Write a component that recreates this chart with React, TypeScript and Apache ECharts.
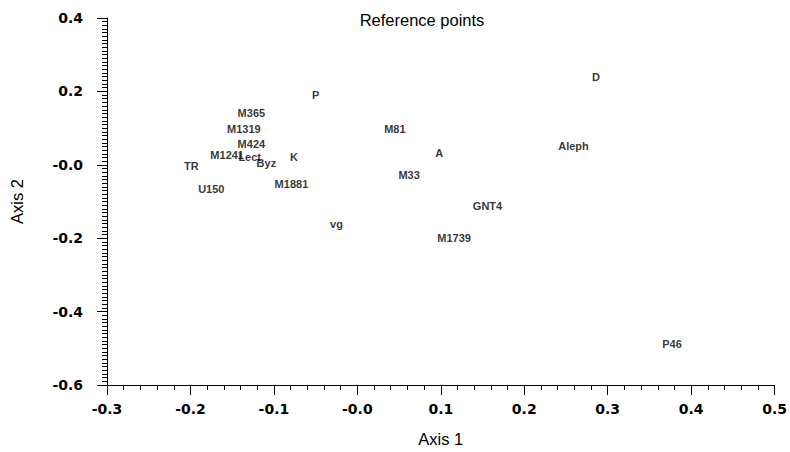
import React, { useEffect, useRef } from "react";
import * as echarts from "echarts";

// Reference points: label names with their coordinates on the first two axes
const names = [
  "D", "P", "M365", "M1319", "M424", "M1241", "Lect", "Byz", "K", "TR",
  "U150", "M1881", "M81", "A", "Aleph", "M33", "GNT4", "vg", "M1739", "P46",
];
const axis1 = [
  0.286, -0.05, -0.127, -0.136, -0.127, -0.156, -0.129, -0.109, -0.076, -0.199,
  -0.175, -0.079, 0.045, 0.098, 0.259, 0.062, 0.156, -0.025, 0.116, 0.377,
];
const axis2 = [
  0.24, 0.191, 0.142, 0.098, 0.058, 0.028, 0.022, 0.006, 0.02, -0.002,
  -0.065, -0.051, 0.098, 0.033, 0.052, -0.029, -0.111, -0.16, -0.2, -0.489,
];

const xTicks = { min: -0.3, max: 0.5, step: 0.1 };
const yTicks = { min: -0.6, max: 0.4, step: 0.2 };

const fmt = (v: number) => (Math.abs(v) < 1e-9 ? "-0.0" : v.toFixed(1));

export default function App() {
  const ref = useRef<HTMLDivElement>(null);

  useEffect(() => {
    if (!ref.current) return;
    const chart = echarts.init(ref.current, null, { renderer: "svg" });
    const font = "'Liberation Sans', Arial, Helvetica, sans-serif";
    const tickFont = "'DejaVu Sans', 'Liberation Sans', sans-serif";
    const axisCommon = {
      axisLine: { show: true, onZero: false, lineStyle: { color: "#000", width: 1 } },
      axisTick: { show: true, length: 10, lineStyle: { color: "#000" } },
      splitLine: { show: false },
      nameTextStyle: { fontFamily: font, fontSize: 16.5, color: "#000" },
      axisLabel: {
        fontFamily: tickFont,
        fontSize: 14,
        fontWeight: "bold" as const,
        color: "#000",
        formatter: fmt,
      },
    };
    chart.setOption({
      animation: false,
      backgroundColor: "#fff",
      grid: { left: 107, right: 12, top: 18, bottom: 66 },
      graphic: [
        {
          type: "text",
          x: 422,
          y: 11,
          style: {
            text: "Reference points",
            font: `16.5px ${font}`,
            fill: "#000",
            textAlign: "center",
            textVerticalAlign: "top",
          },
        },
      ],
      xAxis: {
        ...axisCommon,
        type: "value",
        min: xTicks.min,
        max: xTicks.max,
        interval: xTicks.step,
        name: "Axis 1",
        nameLocation: "middle",
        nameGap: 45,
        axisLabel: { ...axisCommon.axisLabel, margin: 17 },
        minorTick: { show: true, splitNumber: 5, length: 5, lineStyle: { color: "#000" } },
      },
      yAxis: {
        ...axisCommon,
        type: "value",
        min: yTicks.min,
        max: yTicks.max,
        interval: yTicks.step,
        name: "Axis 2",
        nameLocation: "middle",
        nameRotate: 90,
        nameGap: 82,
        axisLabel: { ...axisCommon.axisLabel, margin: 24 },
        minorTick: { show: true, splitNumber: 20, length: 5, lineStyle: { color: "#000" } },
      },
      series: [
        {
          type: "scatter",
          symbolSize: 0.1,
          itemStyle: { color: "transparent" },
          data: names.map((n, i) => ({ name: n, value: [axis1[i], axis2[i]] })),
          label: {
            show: true,
            position: "inside",
            formatter: (p: any) => p.name,
            fontFamily: font,
            fontSize: 11,
            fontWeight: "bold",
            color: "#000",
          },
          labelLayout: { hideOverlap: false },
        },
      ],
    });
    return () => chart.dispose();
  }, []);

  return (
    <div
      ref={ref}
      style={{ position: "fixed", left: 0, top: 0, width: 790, height: 452 }}
    />
  );
}
